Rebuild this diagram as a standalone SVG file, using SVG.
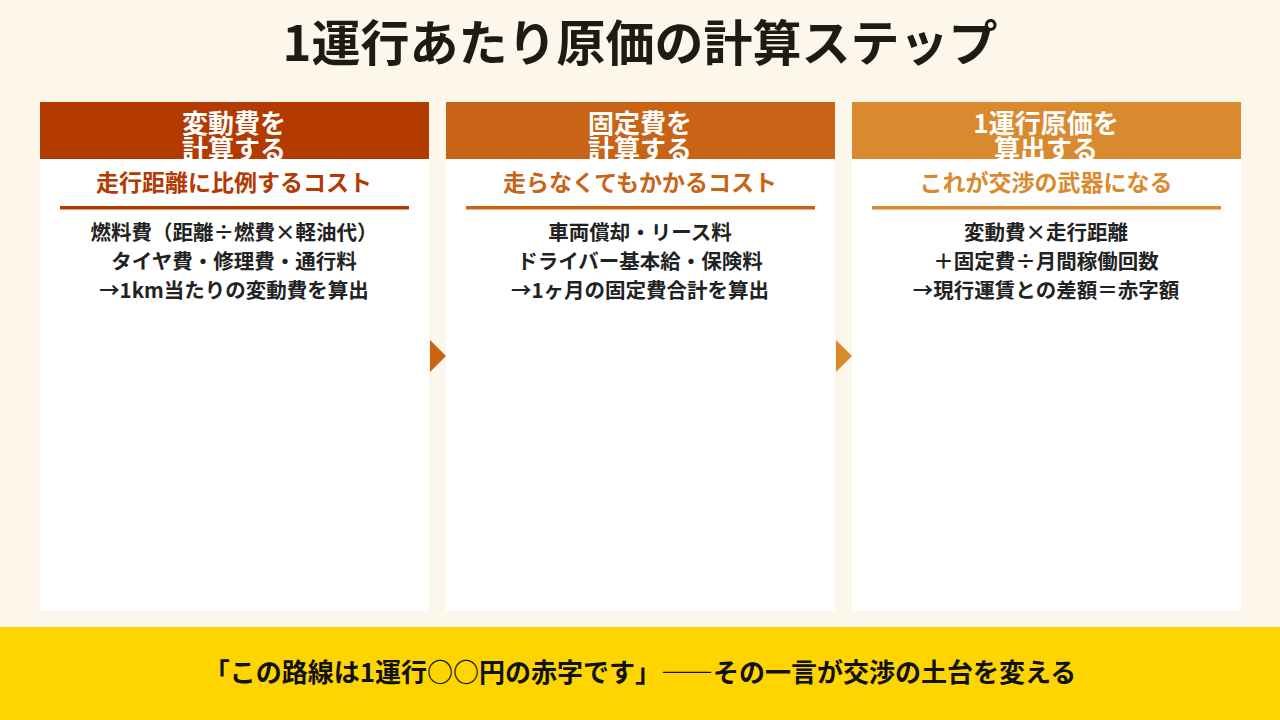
<svg xmlns="http://www.w3.org/2000/svg" width="1280" height="720" viewBox="0 0 1280 720">
<style>
text{font-family:"Noto Sans CJK JP","Noto Sans",sans-serif;font-weight:bold;text-anchor:middle}
.h{font-size:26px;fill:#fff}
.s{font-size:23px}
.b{font-size:20.5px;fill:#222}
.card{fill:#fff}
</style>
<defs>
<clipPath id="c1"><rect x="40" y="102" width="389" height="57"/></clipPath>
<clipPath id="c2"><rect x="446" y="102" width="389" height="57"/></clipPath>
<clipPath id="c3"><rect x="852" y="102" width="389" height="57"/></clipPath>
</defs>
<rect width="1280" height="720" fill="#FDF6EA"/>
<text x="640" y="61" style="font-size:49px;fill:#1e1a14">1運行あたり原価の計算ステップ</text>
<g id="step1">
<rect class="card" x="40" y="102" width="389" height="509"/>
<rect x="40" y="102" width="389" height="57" fill="#B33A00"/>
<text class="h" x="234" y="133" clip-path="url(#c1)">変動費を</text>
<text class="h" x="234" y="159" clip-path="url(#c1)">計算する</text>
<text class="s" x="234" y="191" fill="#B33A00">走行距離に比例するコスト</text>
<rect x="60" y="206" width="349" height="3.5" fill="#B33A00"/>
<text class="b" x="234" y="240">燃料費（距離÷燃費×軽油代）</text>
<text class="b" x="234" y="269">タイヤ費・修理費・通行料</text>
<text class="b" x="234" y="298">→1km当たりの変動費を算出</text>
</g>
<g id="step2">
<rect class="card" x="446" y="102" width="389" height="509"/>
<rect x="446" y="102" width="389" height="57" fill="#C96316"/>
<text class="h" x="640" y="133" clip-path="url(#c2)">固定費を</text>
<text class="h" x="640" y="159" clip-path="url(#c2)">計算する</text>
<text class="s" x="640" y="191" fill="#C96316">走らなくてもかかるコスト</text>
<rect x="466" y="206" width="349" height="3.5" fill="#C96316"/>
<text class="b" x="640" y="240">車両償却・リース料</text>
<text class="b" x="640" y="269">ドライバー基本給・保険料</text>
<text class="b" x="640" y="298">→1ヶ月の固定費合計を算出</text>
</g>
<g id="step3">
<rect class="card" x="852" y="102" width="389" height="509"/>
<rect x="852" y="102" width="389" height="57" fill="#DA8A2E"/>
<text class="h" x="1046" y="133" clip-path="url(#c3)">1運行原価を</text>
<text class="h" x="1046" y="159" clip-path="url(#c3)">算出する</text>
<text class="s" x="1046" y="191" fill="#DA8A2E">これが交渉の武器になる</text>
<rect x="872" y="206" width="349" height="3.5" fill="#DA8A2E"/>
<text class="b" x="1046" y="240">変動費×走行距離</text>
<text class="b" x="1046" y="269">＋固定費÷月間稼働回数</text>
<text class="b" x="1046" y="298">→現行運賃との差額＝赤字額</text>
</g>
<g id="connectors">
<polygon points="430,340 446,356 430,372" fill="#C96316"/>
<polygon points="836,340 852,356 836,372" fill="#DA8A2E"/>
</g>
<g id="footer">
<rect x="0" y="627" width="1280" height="93" fill="#FFD500"/>
<text x="640" y="682" style="font-size:26px;fill:#111">「この路線は1運行○○円の赤字です」――その一言が交渉の土台を変える</text>
</g>
</svg>
